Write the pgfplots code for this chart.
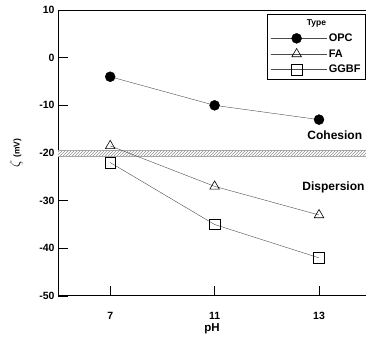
\documentclass[border=0pt]{standalone}
\usepackage{fontspec}
\setmainfont{Liberation Sans}
\usepackage{pgfplots}
\pgfplotsset{compat=1.18}
\usetikzlibrary{patterns}
\begin{document}
\begin{tikzpicture}
\begin{axis}[
  scale only axis,
  width=308pt, height=286pt,
  xmin=-0.5, xmax=2.45,
  ymin=-50, ymax=10,
  axis y line*=left,
  axis x line*=box,
  xtick={0,1,2}, xticklabels={7,11,13},
  ytick={-50,-40,-30,-20,-10,0,10},
  tick align=inside,
  major tick length=10pt,
  xtick pos=bottom, ytick pos=left,
  tick style={black, line width=0.8pt},
  axis line style={line width=1pt},
  /pgf/number format/assume math mode=true,
  ticklabel style={font=\fontsize{10.5}{12}\selectfont\bfseries},
  xticklabel style={yshift=-13pt},
  xlabel={\bfseries pH}, xlabel style={font=\fontsize{11.5}{13}\selectfont, yshift=3pt},
  ylabel={$\zeta$\,{\fontsize{8.5}{9}\selectfont\bfseries (mV)}},
  ylabel style={font=\fontsize{14}{15}\selectfont, yshift=10pt},
  clip=false,
  legend style={at={(1.0,0.986)}, anchor=north east, draw=black, line width=0.8pt,
    font=\fontsize{11}{12}\selectfont\bfseries, row sep=2.5pt, inner xsep=3pt, inner ysep=3.5pt},
  legend cell align=left,
  legend image code/.code={\draw[#1, mark repeat=2, mark phase=2] plot coordinates {(0pt,0pt) (26pt,0pt) (56pt,0pt)};},
]
\fill[white] (axis cs:-0.5,-19.5) rectangle (axis cs:2.45,-20.6);
\fill[pattern=north east lines, pattern color=gray!85] (axis cs:-0.5,-19.5) rectangle (axis cs:2.45,-20.6);
\draw[gray!70, line width=0.4pt] (axis cs:-0.5,-19.5) -- (axis cs:2.45,-19.5);
\draw[gray!70, line width=0.4pt] (axis cs:-0.5,-20.6) -- (axis cs:2.45,-20.6);
\addlegendimage{empty legend}
\addlegendentry{\hspace{-22pt}\fontsize{8.5}{9}\selectfont\bfseries Type}
\addplot[black!70, line width=0.4pt, mark=*, mark size=5pt, mark options={fill=black, draw=black}]
  coordinates {(0,-4) (1,-10) (2,-13)};
\addlegendentry{OPC}
\addplot[black!70, line width=0.4pt, mark=triangle, mark size=5.5pt, mark options={draw=black, fill=white, line width=0.6pt}]
  coordinates {(0,-18.5) (1,-27) (2,-33)};
\addlegendentry{FA}
\addplot[black!70, line width=0.4pt, mark=square, mark size=5.3pt, mark options={draw=black, fill=white, line width=0.6pt}]
  coordinates {(0,-22) (1,-35) (2,-42)};
\addlegendentry{GGBF}
\node[font=\fontsize{12}{13}\selectfont\bfseries, anchor=west, inner sep=0pt] at (axis cs:1.887,-16.2) {Cohesion};
\node[font=\fontsize{12}{13}\selectfont\bfseries, anchor=west, inner sep=0pt] at (axis cs:1.839,-27.3) {Dispersion};
\end{axis}
\pgfresetboundingbox
\path (current axis.south west) ++(-58pt,-43pt) coordinate (bl);
\path (current axis.north east) ++(0pt,10pt) coordinate (tr);
\useasboundingbox (bl) rectangle (tr);
\end{tikzpicture}
\end{document}
